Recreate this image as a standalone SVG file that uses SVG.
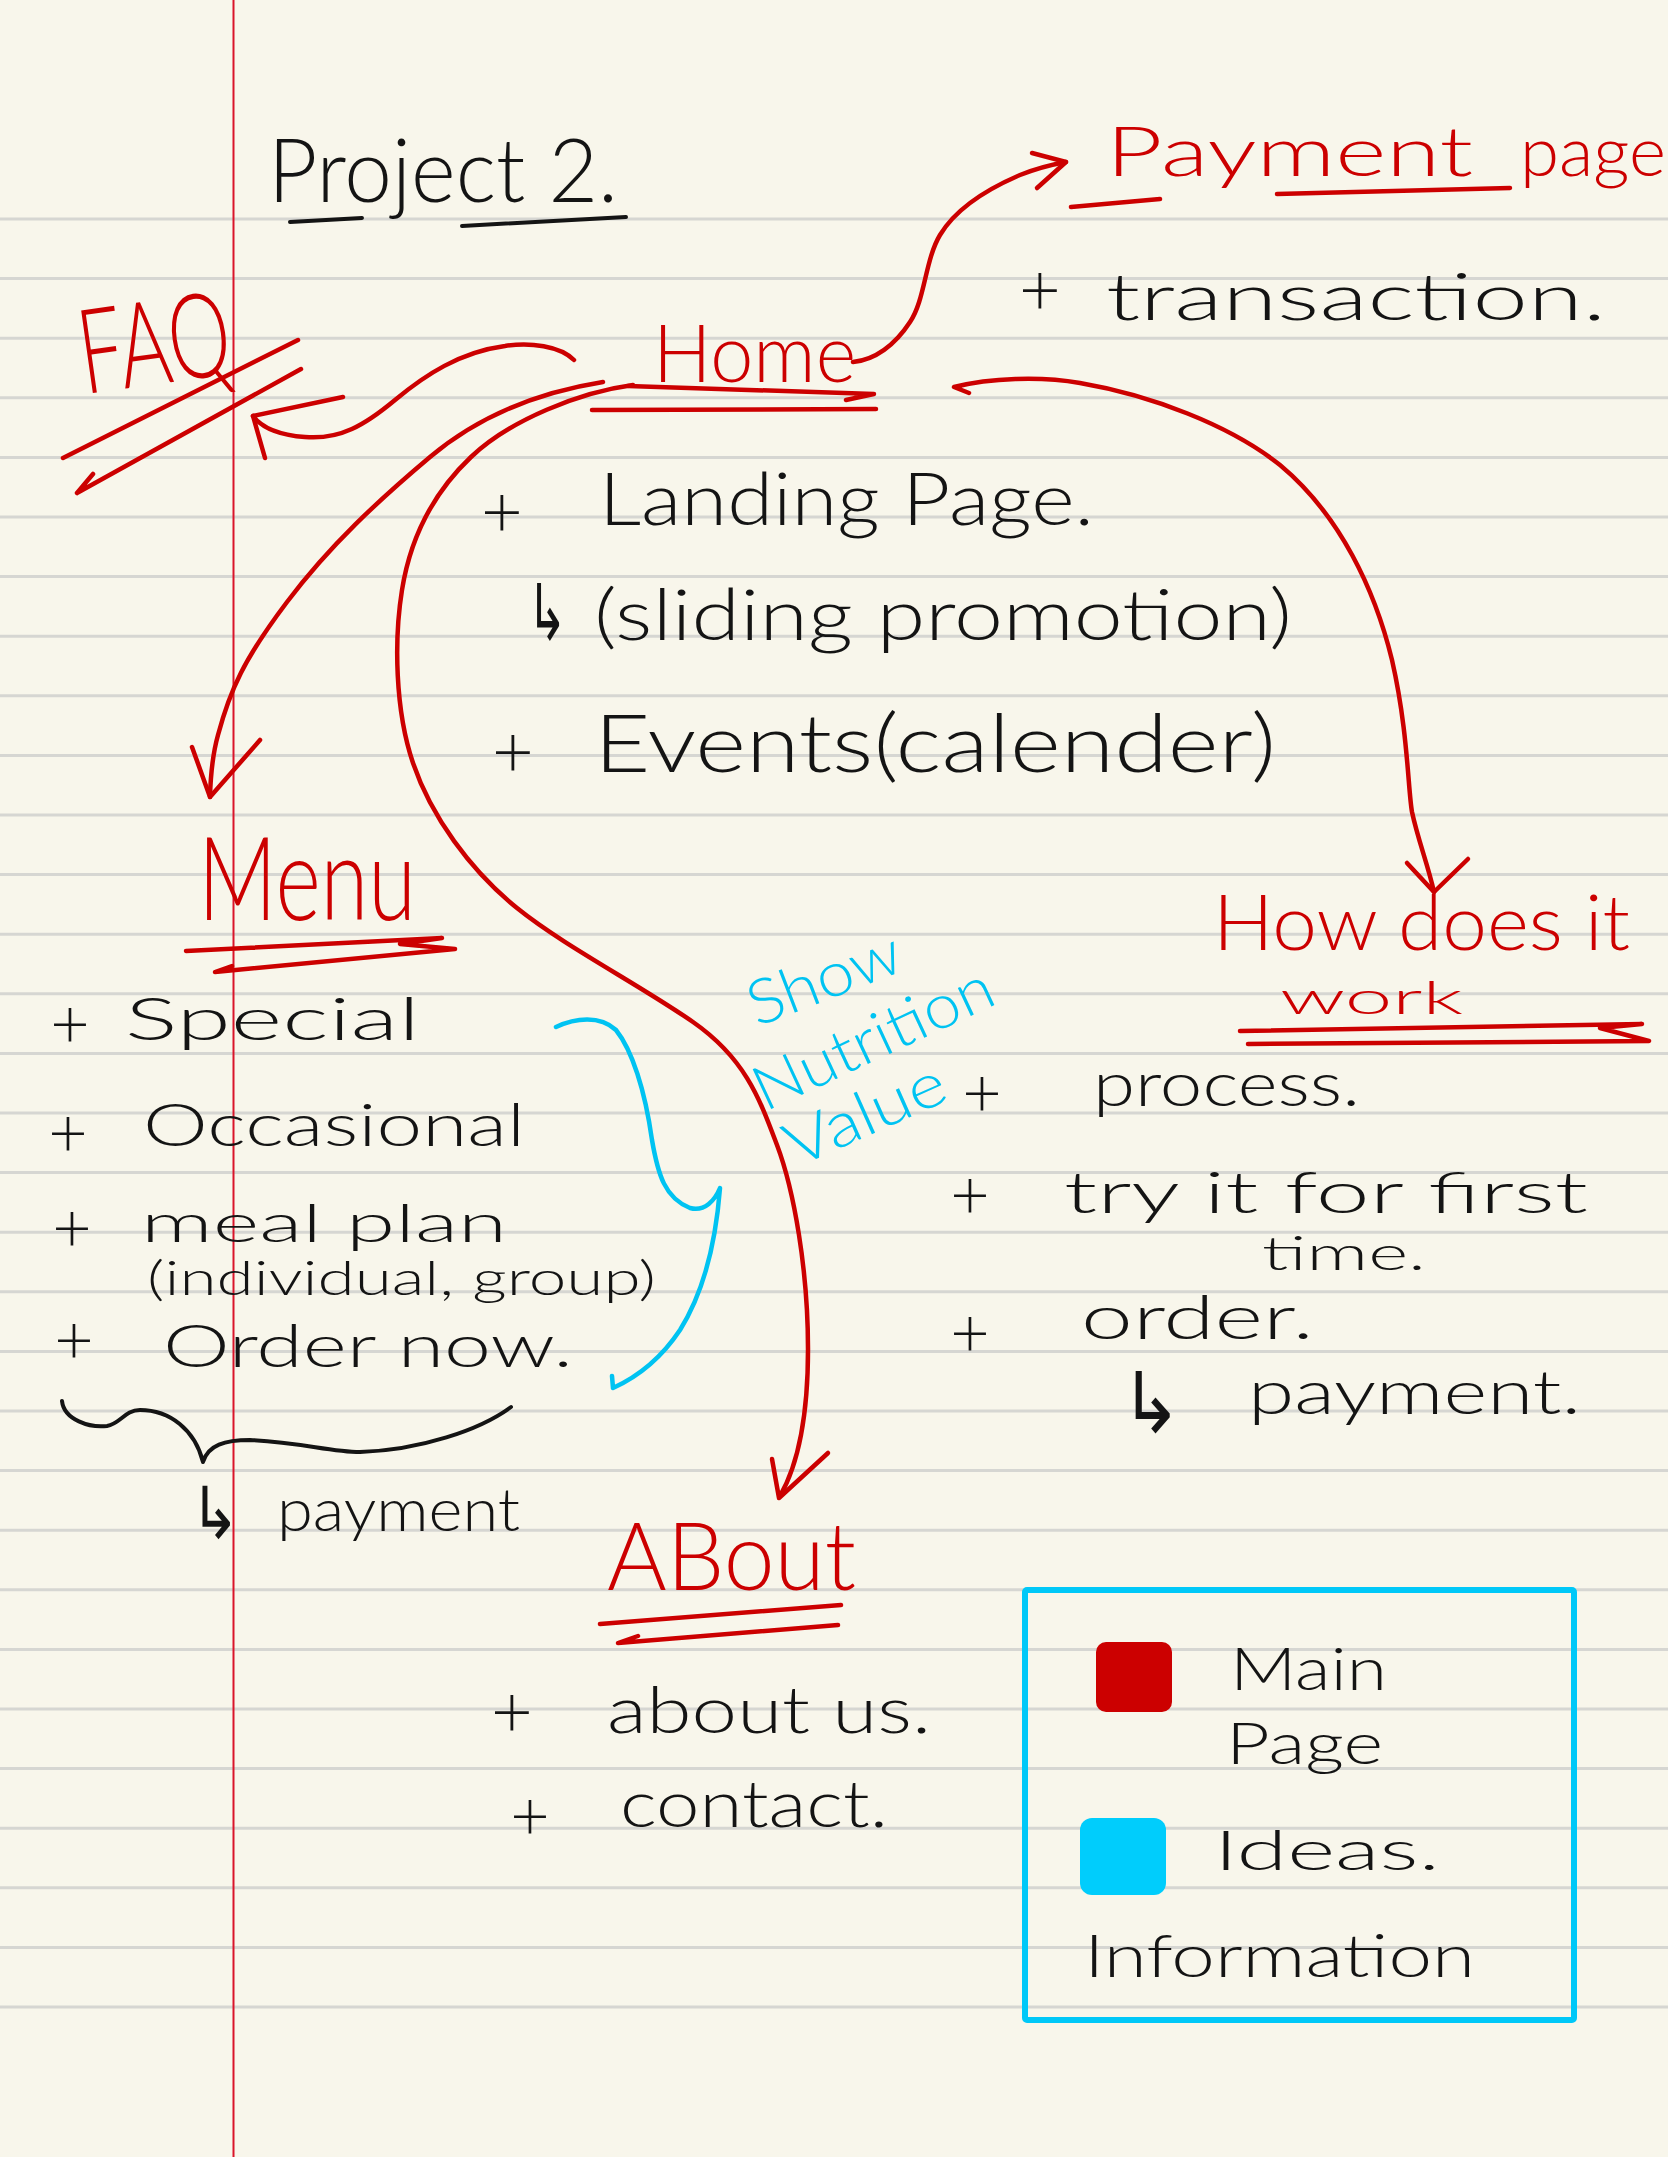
<svg xmlns="http://www.w3.org/2000/svg" width="1668" height="2157" viewBox="0 0 1668 2157">
  <style>
    .t { font-family: "Lato", "Liberation Sans", "DejaVu Sans", sans-serif; font-weight: 300; }
    .sym { font-family: "DejaVu Sans", sans-serif; }
    .red { fill: #cc0000; }
    .ink { fill: #141414; }
    .blue { fill: #00c3f2; }
    .pr { fill: none; stroke: #cc0000; stroke-width: 4.5; stroke-linecap: round; stroke-linejoin: round; }
    .pk { fill: none; stroke: #141414; stroke-width: 4; stroke-linecap: round; stroke-linejoin: round; }
    .pb { fill: none; stroke: #00c3f2; stroke-width: 4.5; stroke-linecap: round; stroke-linejoin: round; }
  </style>

  <!-- paper -->
  <g id="paper">
    <rect x="0" y="0" width="1668" height="2157" fill="#f8f6eb"/>
    <path fill="none" stroke="#d6d6d2" stroke-width="3"
      d="M0,219H1668 M0,278.6H1668 M0,338.2H1668 M0,397.8H1668 M0,457.4H1668 M0,517H1668 M0,576.6H1668 M0,636.2H1668 M0,695.8H1668 M0,755.4H1668 M0,815H1668 M0,874.6H1668 M0,934.2H1668 M0,993.8H1668 M0,1053.4H1668 M0,1113H1668 M0,1172.6H1668 M0,1232.2H1668 M0,1291.8H1668 M0,1351.4H1668 M0,1411H1668 M0,1470.6H1668 M0,1530.2H1668 M0,1589.8H1668 M0,1649.4H1668 M0,1709H1668 M0,1768.6H1668 M0,1828.2H1668 M0,1887.8H1668 M0,1947.4H1668 M0,2007H1668"/>
    <line x1="233.5" y1="0" x2="233.5" y2="2157" stroke="#d9142a" stroke-width="2"/>
  </g>

  <!-- connectors -->
  <g id="connectors">
    <!-- Home to FAQ -->
    <path class="pr" d="M574,360 C560,346 530,342 505,346 C460,352 425,375 395,400 C365,425 340,440 305,437 C280,435 262,428 253,416"/>
    <path class="pr" d="M343,397 L253,416 L265,458"/>
    <!-- Home to Payment page -->
    <path class="pr" d="M853,362 C875,360 895,345 910,322 C925,300 925,260 940,235 C955,210 985,190 1020,175 C1040,167 1055,164 1066,162"/>
    <path class="pr" d="M1032,153 L1066,162 L1037,188"/>
    <!-- Home to How does it work -->
    <path class="pr" d="M969,393 L954,387 C990,378 1040,376 1080,383 C1150,395 1230,425 1280,465 C1340,515 1375,590 1392,660 C1408,730 1408,790 1412,812 C1418,840 1428,865 1434,892"/>
    <path class="pr" d="M1407,863 L1434,892 L1468,859"/>
    <!-- Home to Menu -->
    <path class="pr" d="M603,382 C540,392 480,415 430,457 S330,545 287,602 S230,690 218,735 Q211,760 210,797"/>
    <path class="pr" d="M192,747 L210,797 L260,740"/>
    <!-- Home to About -->
    <path class="pr" d="M633,385 C580,392 510,420 471,457 S410,540 402,590 S395,710 413,763 S470,870 517,908 S640,985 693,1022 S760,1100 777,1145 S808,1270 808,1349 S795,1470 780,1496"/>
    <path class="pr" d="M772,1459 L779,1498 L828,1453"/>
    <!-- idea brace pointing at the menu items -->
    <path class="pb" d="M556,1027 C575,1018 600,1015 616,1030 C632,1050 645,1090 652,1140 C658,1175 665,1198 690,1208 C705,1212 715,1200 720,1188 C716,1240 705,1290 680,1330 C660,1360 635,1378 613,1388 L612,1376"/>
  </g>

  <!-- title -->
  <g id="title">
    <text class="t ink" x="268" y="202" font-size="88" textLength="350" lengthAdjust="spacingAndGlyphs">Project 2.</text>
    <path class="pk" d="M290,222 L362,218 M462,226 L626,217"/>
  </g>

  <!-- FAQ (struck out) -->
  <g id="faq">
    <text class="t red" x="78" y="384" font-size="118" textLength="152" lengthAdjust="spacingAndGlyphs" transform="rotate(-8 155 340)">FAQ</text>
    <path class="pr" d="M63,458 L298,340 M77,493 L301,369 M77,493 L93,474"/>
  </g>

  <!-- Home -->
  <g id="home">
    <text class="t red" x="653" y="382" font-size="80" textLength="203" lengthAdjust="spacingAndGlyphs">Home</text>
    <path class="pr" d="M628,386 L874,394 L846,400 M592,410 L876,409"/>
    <text class="t ink" x="502" y="537" font-size="72" text-anchor="middle">+</text>
    <text class="t ink" x="599" y="525" font-size="72" textLength="495" lengthAdjust="spacingAndGlyphs">Landing Page.</text>
    <text class="sym ink" x="527" y="640" font-size="78" textLength="40" lengthAdjust="spacingAndGlyphs">↳</text>
    <text class="t ink" x="594" y="640" font-size="70" textLength="698" lengthAdjust="spacingAndGlyphs">(sliding promotion)</text>
    <text class="t ink" x="513" y="777" font-size="72" text-anchor="middle">+</text>
    <text class="t ink" x="594" y="772" font-size="80" textLength="682" lengthAdjust="spacingAndGlyphs">Events(calender)</text>
  </g>

  <!-- Payment page -->
  <g id="payment-page">
    <text class="t red" x="1106" y="176" font-size="68" textLength="367" lengthAdjust="spacingAndGlyphs">Payment</text>
    <text class="t red" x="1520" y="176" font-size="68" textLength="146" lengthAdjust="spacingAndGlyphs">page</text>
    <path class="pr" d="M1071,207 L1160,199 M1277,194 L1510,188"/>
    <text class="t ink" x="1040" y="315" font-size="72" text-anchor="middle">+</text>
    <text class="t ink" x="1106" y="320" font-size="66" textLength="500" lengthAdjust="spacingAndGlyphs">transaction.</text>
  </g>

  <!-- Menu -->
  <g id="menu">
    <text class="t red" x="198" y="920" font-size="116" textLength="218" lengthAdjust="spacingAndGlyphs">Menu</text>
    <path class="pr" d="M186,951 L442,938 L400,944 L455,949 L215,972 L232,966"/>
    <text class="t ink" x="70" y="1048" font-size="68" text-anchor="middle">+</text>
    <text class="t ink" x="125" y="1040" font-size="60" textLength="295" lengthAdjust="spacingAndGlyphs">Special</text>
    <text class="t ink" x="68" y="1157" font-size="68" text-anchor="middle">+</text>
    <text class="t ink" x="143" y="1146" font-size="60" textLength="382" lengthAdjust="spacingAndGlyphs">Occasional</text>
    <text class="t ink" x="72" y="1252" font-size="68" text-anchor="middle">+</text>
    <text class="t ink" x="141" y="1242" font-size="54" textLength="366" lengthAdjust="spacingAndGlyphs">meal plan</text>
    <text class="t ink" x="147" y="1295" font-size="48" textLength="509" lengthAdjust="spacingAndGlyphs">(individual, group)</text>
    <text class="t ink" x="74" y="1364" font-size="68" text-anchor="middle">+</text>
    <text class="t ink" x="163" y="1367" font-size="60" textLength="410" lengthAdjust="spacingAndGlyphs">Order now.</text>
    <path class="pk" d="M62,1401 C64,1420 90,1428 107,1426 C120,1424 125,1410 140,1410 C170,1410 195,1430 203,1462 C208,1445 225,1440 250,1440 C300,1442 330,1452 360,1452 C420,1450 480,1430 511,1407"/>
    <text class="sym ink" x="190" y="1538" font-size="72" textLength="50" lengthAdjust="spacingAndGlyphs">↳</text>
    <text class="t ink" x="277" y="1531" font-size="60" textLength="243" lengthAdjust="spacingAndGlyphs">payment</text>
  </g>

  <!-- nutrition idea -->
  <g id="nutrition-note">
    <text class="t blue" x="757" y="1027" font-size="62" textLength="160" lengthAdjust="spacingAndGlyphs" transform="rotate(-21 757 1027)">Show</text>
    <text class="t blue" x="765" y="1112" font-size="62" textLength="258" lengthAdjust="spacingAndGlyphs" transform="rotate(-25 765 1112)">Nutrition</text>
    <text class="t blue" x="796" y="1168" font-size="62" textLength="170" lengthAdjust="spacingAndGlyphs" transform="rotate(-24 796 1168)">Value</text>
  </g>

  <!-- How does it work -->
  <g id="how-it-works">
    <text class="t red" x="1213" y="950" font-size="76" textLength="417" lengthAdjust="spacingAndGlyphs">How does it</text>
    <text class="t red" x="1280" y="1014" font-size="46" textLength="183" lengthAdjust="spacingAndGlyphs">work</text>
    <path class="pr" d="M1240,1031 L1642,1024 L1600,1028 L1649,1041 L1248,1044"/>
    <text class="t ink" x="982" y="1117" font-size="68" text-anchor="middle">+</text>
    <text class="t ink" x="1093" y="1106" font-size="62" textLength="267" lengthAdjust="spacingAndGlyphs">process.</text>
    <text class="t ink" x="970" y="1219" font-size="68" text-anchor="middle">+</text>
    <text class="t ink" x="1064" y="1213" font-size="58" textLength="524" lengthAdjust="spacingAndGlyphs">try it for first</text>
    <text class="t ink" x="1262" y="1270" font-size="48" textLength="164" lengthAdjust="spacingAndGlyphs">time.</text>
    <text class="t ink" x="970" y="1357" font-size="68" text-anchor="middle">+</text>
    <text class="t ink" x="1081" y="1339" font-size="62" textLength="233" lengthAdjust="spacingAndGlyphs">order.</text>
    <text class="sym ink" x="1120" y="1432" font-size="84" textLength="62" lengthAdjust="spacingAndGlyphs">↳</text>
    <text class="t ink" x="1248" y="1414" font-size="62" textLength="333" lengthAdjust="spacingAndGlyphs">payment.</text>
  </g>

  <!-- About -->
  <g id="about">
    <text class="t red" x="607" y="1590" font-size="94" textLength="249" lengthAdjust="spacingAndGlyphs">ABout</text>
    <path class="pr" d="M600,1624 L841,1605 M838,1625 L618,1643 L638,1636"/>
    <text class="t ink" x="512" y="1737" font-size="72" text-anchor="middle">+</text>
    <text class="t ink" x="607" y="1733" font-size="66" textLength="324" lengthAdjust="spacingAndGlyphs">about us.</text>
    <text class="t ink" x="530" y="1840" font-size="68" text-anchor="middle">+</text>
    <text class="t ink" x="620" y="1827" font-size="66" textLength="268" lengthAdjust="spacingAndGlyphs">contact.</text>
  </g>

  <!-- legend -->
  <g id="legend">
    <rect x="1025" y="1590" width="549" height="430" fill="none" stroke="#00c8f8" stroke-width="6" rx="2"/>
    <rect x="1096" y="1642" width="76" height="70" rx="10" fill="#cc0000"/>
    <text class="t ink" x="1230" y="1690" font-size="60" textLength="157" lengthAdjust="spacingAndGlyphs">Main</text>
    <text class="t ink" x="1226" y="1764" font-size="58" textLength="157" lengthAdjust="spacingAndGlyphs">Page</text>
    <rect x="1080" y="1818" width="86" height="77" rx="12" fill="#00cdfc"/>
    <text class="t ink" x="1214" y="1870" font-size="56" textLength="226" lengthAdjust="spacingAndGlyphs">Ideas.</text>
    <text class="t ink" x="1084" y="1977" font-size="60" textLength="391" lengthAdjust="spacingAndGlyphs">Information</text>
  </g>
</svg>
